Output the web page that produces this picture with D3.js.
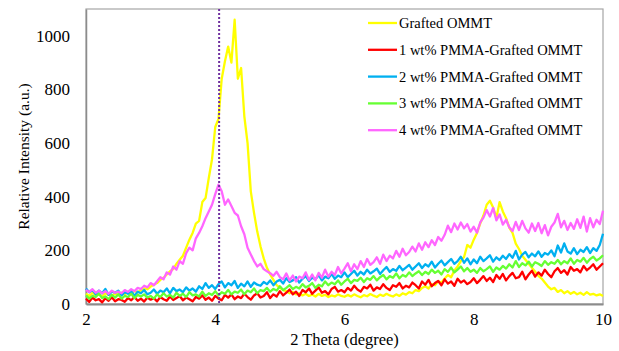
<!DOCTYPE html>
<html>
<head>
<meta charset="utf-8">
<script src="https://cdn.jsdelivr.net/npm/d3@7"></script>
<style>
  body { margin: 0; background: #fff; }
  svg text { font-family: "Liberation Serif", "Times New Roman", serif; fill: #000; }
</style>
</head>
<body>
<div id="chart"></div>
<script>
// 2-theta scan grid (degrees)
const thetaStart = 2, thetaStep = 0.05;

const seriesNames = ['Grafted OMMT', '1 wt% PMMA-Grafted OMMT', '2 wt% PMMA-Grafted OMMT',
  '3 wt% PMMA-Grafted OMMT', '4 wt% PMMA-Grafted OMMT'];
const seriesColors = ['#ffff00', '#ff0000', '#00b0f0', '#66ff33', '#ff66ff'];

const grafted = [38,30,42,33,36,28,40,34,31,38,35,42,37,45,40,48,44,52,58,55,
  65,72,78,90,98,110,122,130,150,165,180,210,240,265,300,310,380,395,470,540,
  660,690,840,905,960,900,1060,840,880,700,600,420,340,270,215,170,135,110,90,70,
  60,52,48,40,45,36,40,32,38,30,35,28,38,30,34,26,32,28,36,30,
  27,34,28,36,30,25,33,29,37,31,26,35,30,38,32,28,36,30,40,35,
  44,40,52,48,60,66,58,74,70,85,80,95,108,100,125,140,160,175,220,210,
  240,265,300,330,370,385,360,320,380,345,320,285,265,225,205,180,165,150,135,120,
  105,95,80,65,55,60,45,52,40,48,38,45,36,42,34,44,35,38,32,36,30];

const pmma1 = [20,8,24,14,18,6,22,12,25,10,18,15,8,22,14,26,12,20,9,24,
  16,22,10,26,18,12,28,15,22,30,14,24,18,10,26,20,32,16,24,12,
  30,20,14,34,24,36,18,28,22,38,26,16,32,40,24,30,44,22,36,28,
  48,32,42,54,36,46,30,52,44,58,38,50,62,42,48,36,56,64,46,52,
  44,60,50,68,54,46,64,58,72,50,62,56,74,60,52,70,64,78,58,68,
  62,80,70,58,84,72,90,66,78,86,70,92,76,84,68,94,80,88,74,82,
  96,78,90,104,86,98,82,108,94,112,88,104,116,96,100,120,92,110,124,102,
  118,106,128,112,100,122,134,116,126,110,138,124,130,118,142,126,136,148,128,140,152];

const pmma2 = [58,44,52,36,50,40,56,34,46,42,50,32,44,38,48,30,46,40,52,36,
  42,54,38,50,44,58,40,60,48,54,44,62,50,58,46,66,56,78,60,70,
  56,74,84,62,78,70,86,60,76,66,84,64,80,72,68,82,74,88,70,84,
  90,76,96,82,88,100,80,94,104,86,98,92,108,88,102,96,112,94,106,100,
  118,100,112,124,106,120,110,128,114,122,132,112,126,138,120,130,124,142,126,136,
  146,128,140,152,134,148,140,158,136,150,162,144,156,168,150,160,176,154,170,148,
  166,152,176,160,170,182,158,174,164,180,168,186,172,198,166,184,194,174,188,178,
  196,176,190,184,200,178,218,192,226,196,188,208,186,202,194,212,190,208,198,220,262];

const pmma3 = [32,20,30,26,38,22,28,18,34,24,36,20,30,26,38,22,34,28,36,24,
  30,20,36,26,40,28,34,24,42,30,38,26,44,32,36,28,46,30,40,34,
  48,32,44,38,52,36,46,42,54,36,50,44,58,40,52,48,60,46,56,50,
  66,52,60,70,56,64,58,74,62,68,78,60,72,66,84,70,80,74,88,72,
  84,94,78,90,86,98,82,96,90,104,88,100,108,92,104,98,114,96,108,102,
  118,104,114,122,108,120,112,128,116,124,110,130,120,136,118,128,140,122,134,120,
  128,116,134,122,130,140,120,136,128,142,132,148,136,160,138,152,144,158,140,156,
  150,142,160,146,156,150,164,148,160,152,170,150,164,158,172,154,168,176,162,170,182];

const pmma4 = [52,45,55,42,50,40,48,38,50,42,46,40,52,45,55,48,60,56,68,62,
  78,70,85,100,92,118,110,140,128,160,150,190,210,200,245,265,290,320,345,370,
  410,445,420,370,390,365,340,330,290,260,210,185,160,140,150,130,122,115,105,120,
  100,92,114,88,106,84,102,96,118,90,110,88,116,98,128,102,120,108,138,114,
  132,152,122,148,130,160,138,168,146,156,174,150,184,160,180,170,198,176,206,182,
  194,214,196,226,202,230,212,238,220,250,236,258,292,268,300,278,304,282,298,270,
  288,266,304,322,350,326,358,312,334,296,314,286,272,306,276,310,282,266,300,272,
  302,264,294,256,288,304,336,286,310,276,302,280,316,284,326,270,320,286,314,298,348];

const seriesValues = [grafted, pmma1, pmma2, pmma3, pmma4];

const xTicks = [2, 4, 6, 8, 10];
const yTicks = [0, 200, 400, 600, 800, 1000];
const markerTheta = 4.06;

const width = 619, height = 351;
const margin = {top: 9, right: 16, bottom: 47, left: 86};

const svg = d3.select('#chart').append('svg')
  .attr('width', width)
  .attr('height', height);

const x = d3.scaleLinear().domain([2, 10]).range([margin.left, width - margin.right]);
const y = d3.scaleLinear().domain([0, 1100]).range([height - margin.bottom, margin.top]);

// plot frame
svg.append('rect')
  .attr('x', x(2)).attr('y', y(1100))
  .attr('width', x(10) - x(2)).attr('height', y(0) - y(1100))
  .attr('fill', 'none')
  .attr('stroke', '#a6a6a6')
  .attr('stroke-width', 1.2);

const xAxis = svg.append('g')
  .attr('transform', `translate(0,${y(0)})`)
  .call(d3.axisBottom(x).tickValues(xTicks).tickSize(0).tickPadding(9).tickFormat(d3.format('d')));
xAxis.select('.domain').attr('stroke', '#8c8c8c').attr('stroke-width', 2);
xAxis.selectAll('text').style('font-size', '17px');

const yAxis = svg.append('g')
  .attr('transform', `translate(${x(2)},0)`)
  .call(d3.axisLeft(y).tickValues(yTicks).tickSize(0).tickPadding(16).tickFormat(d3.format('d')));
yAxis.select('.domain').attr('stroke', '#8c8c8c').attr('stroke-width', 1.5);
yAxis.selectAll('text').style('font-size', '17px');

const line = d3.line()
  .x((d, i) => x(thetaStart + i * thetaStep))
  .y(d => y(d));

svg.append('g').selectAll('path')
  .data(seriesValues).enter().append('path')
    .attr('d', d => line(d))
    .attr('fill', 'none')
    .attr('stroke', (d, i) => seriesColors[i])
    .attr('stroke-width', 2.3)
    .attr('stroke-linejoin', 'round');

// dotted marker at the d001 peak
svg.append('line')
  .attr('x1', x(markerTheta)).attr('x2', x(markerTheta))
  .attr('y1', y(1100)).attr('y2', y(0))
  .attr('stroke', '#7030a0')
  .attr('stroke-width', 2)
  .attr('stroke-dasharray', '2,2');

// legend
const legend = svg.append('g').attr('transform', 'translate(368,23)');
const rows = legend.selectAll('g')
  .data(seriesNames).enter().append('g')
    .attr('transform', (d, i) => `translate(0,${i * 26.8})`);
rows.append('line')
  .attr('x1', 0).attr('x2', 29)
  .attr('stroke', (d, i) => seriesColors[i])
  .attr('stroke-width', 2.3);
rows.append('text')
  .attr('x', 31).attr('dy', '0.35em')
  .style('font-size', '14.5px')
  .text(d => d);

// axis titles
svg.append('text')
  .attr('x', (x(2) + x(10)) / 2).attr('y', 345)
  .attr('text-anchor', 'middle')
  .style('font-size', '16.5px')
  .text('2 Theta (degree)');

svg.append('text')
  .attr('transform', `translate(29,${(y(0) + y(1100)) / 2}) rotate(-90)`)
  .attr('text-anchor', 'middle')
  .style('font-size', '15.5px')
  .text('Relative Intensity (a.u.)');
</script>
</body>
</html>
